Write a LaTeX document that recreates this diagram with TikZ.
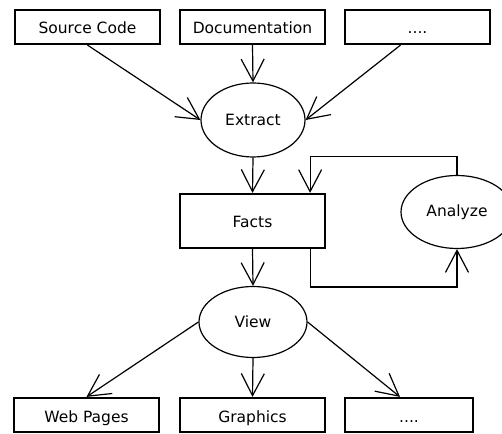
\documentclass[tikz,border=0pt]{standalone}
\usepackage{fontspec}
\setmainfont{DejaVu Sans}
\usepackage{tikz}
\usetikzlibrary{calc}
\usetikzlibrary{shapes.geometric}
\usetikzlibrary{arrows.meta}

\begin{document}
\begin{tikzpicture}[x=1pt,y=1pt,
    box/.style={draw,line width=2.2,minimum width=145,minimum height=34,inner sep=0,text height=14,text depth=0,font=\fontsize{15.5}{18}\selectfont},
    task/.style={draw,ellipse,line width=1.2,inner sep=0,font=\fontsize{15.5}{18}\selectfont},
    flow/.style={line width=1.2,-{Straight Barb[length=22pt,width=23pt,line width=1.2pt]}}]
    \useasboundingbox (0,0) rectangle (502,433);

    \node [box] (src)   at (87.5,406)  {Source Code};
    \node [box] (doc)   at (252.5,406) {Documentation};
    \node [box] (more1) at (417.5,406) {....};

    \node [task,minimum width=104,minimum height=74] (extract) at (253,313) {Extract};
    \node [box,minimum height=54] (facts) at (252.5,212) {Facts};
    \node [task,minimum width=112,minimum height=73] (analyze) at (457,221) {Analyze};
    \node [task,minimum width=108,minimum height=71] (view) at (253,111) {View};

    \node [box] (web)    at (86.5,18)  {Web Pages};
    \node [box] (graph)  at (252.5,18) {Graphics};
    \node [box,minimum width=128] (more2) at (409,18) {....};

    \draw [flow] (src.south) -- (extract.west);
    \draw [flow] (doc.south) -- (extract.north);
    \draw [flow] ([xshift=-17]more1.south) -- (extract.east);
    \draw [flow] (extract.south) -- (facts.north);

    % loop between facts and analysis
    \draw [flow] (analyze.north) -- ++(0,18) -| ([xshift=-16]facts.north east);
    \draw [flow] ([xshift=-16]facts.south east) -- ++(0,-38) -| (analyze.south);

    \draw [flow] (facts.south) -- (view.north);
    \draw [flow] (view.west) -- (web.north);
    \draw [flow] (view.south) -- (graph.north);
    \draw [flow] (view.east) -- ([xshift=-9]more2.north);
\end{tikzpicture}
\end{document}
